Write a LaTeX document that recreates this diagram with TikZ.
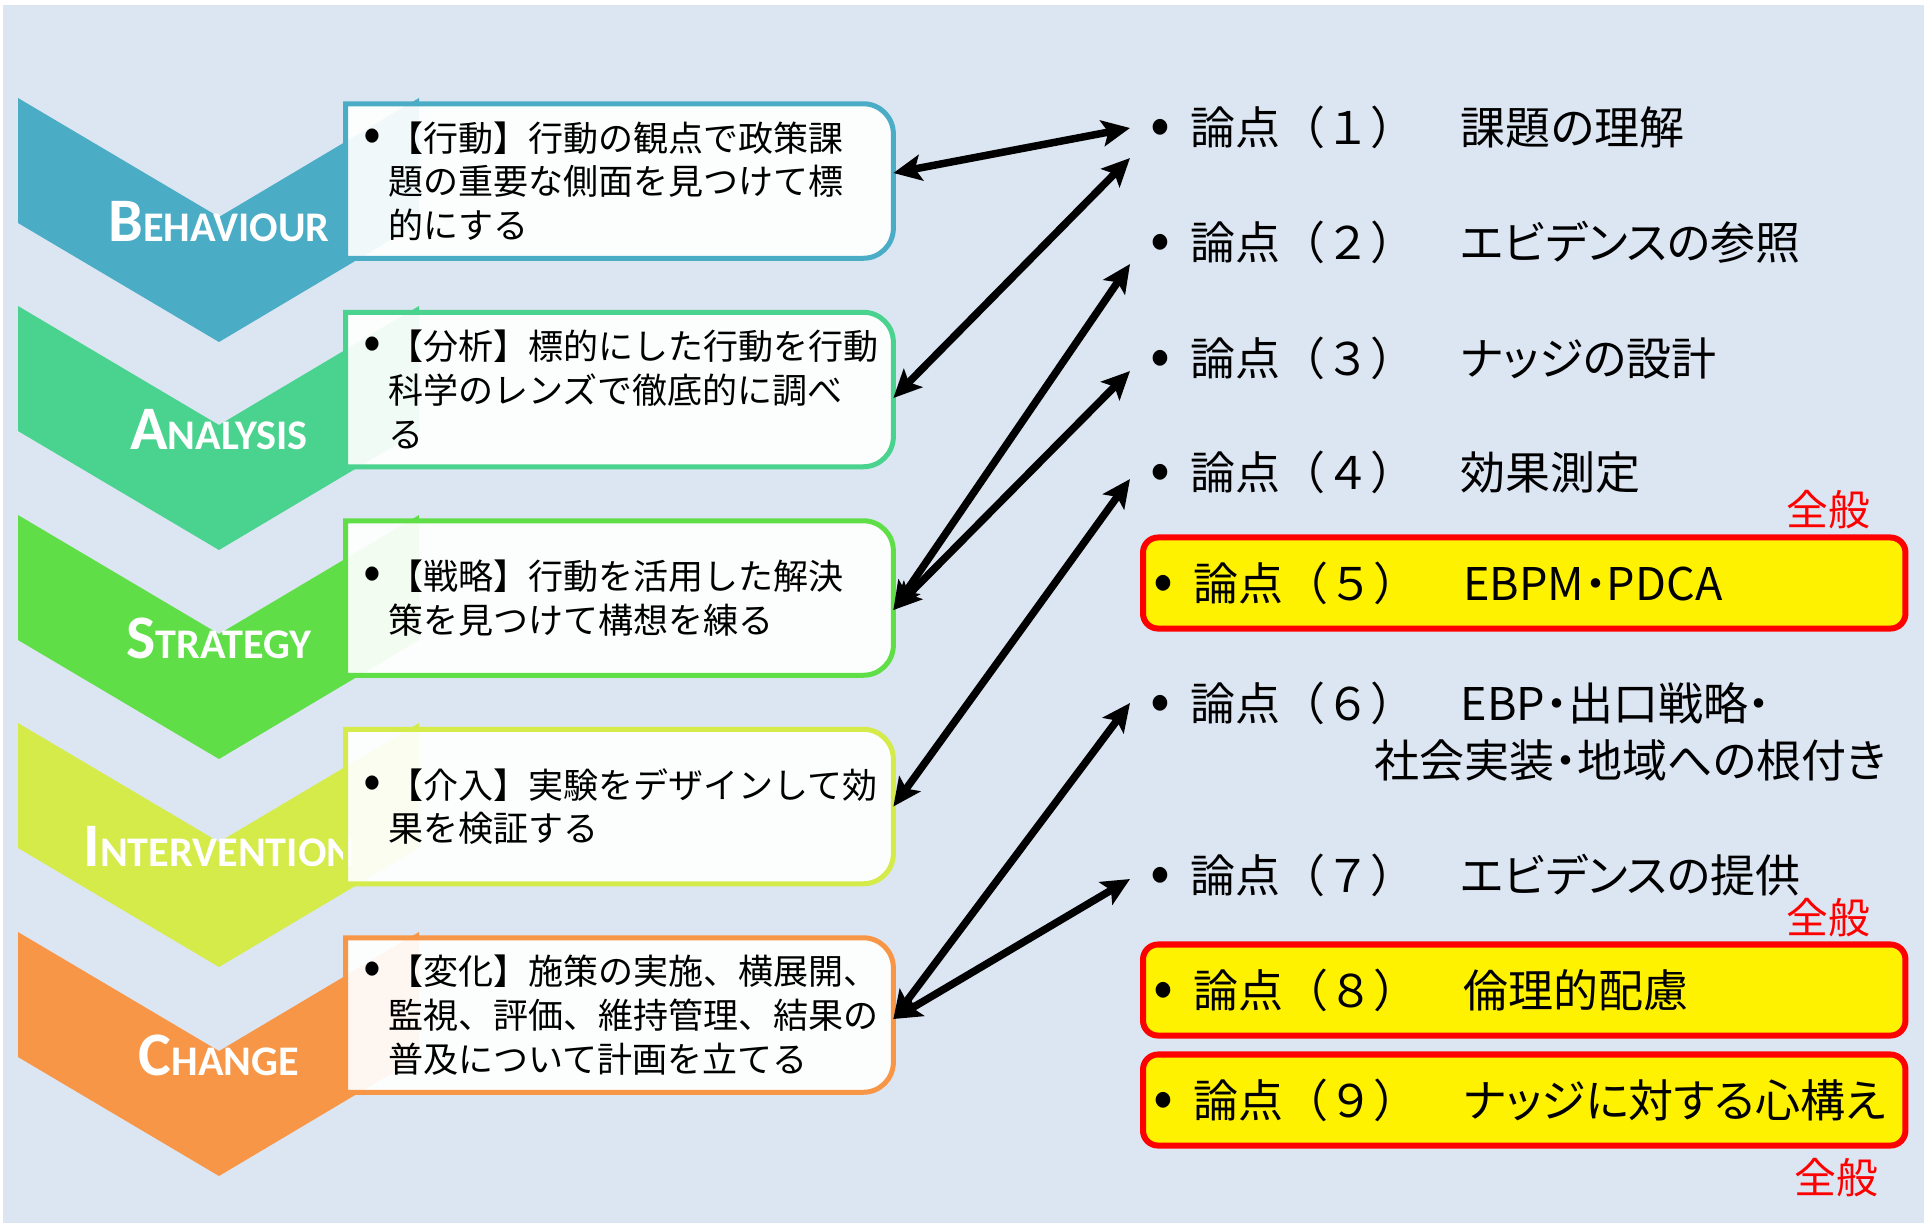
\documentclass[tikz,border=0pt]{standalone}
\usepackage{graphicx}
\usepackage{fontspec}
\setmainfont{Noto Sans CJK JP}
\newfontfamily\proptext[RawFeature=+palt]{Noto Sans CJK JP}
\newfontfamily\stagefont{Carlito}
\usetikzlibrary{arrows.meta,positioning}
\definecolor{bgblue}{RGB}{220,230,242}
\definecolor{behcol}{RGB}{75,172,198}
\definecolor{anacol}{RGB}{73,211,143}
\definecolor{stratcol}{RGB}{96,222,72}
\definecolor{intcol}{RGB}{212,235,74}
\definecolor{chgcol}{RGB}{247,150,70}
\newcommand{\stagename}[2]{{\fontsize{17.6}{18}\selectfont #1}{\fontsize{12}{13}\selectfont #2}}
\newcommand{\dotmark}{\llap{\scalebox{1.5}{•}\hspace{0.07cm}}}
\newcommand{\topic}[2]{\makebox[0.4cm][l]{\scalebox{1.3}{•}}\makebox[2.7cm][l]{論点（#1）}{\proptext #2}}
\begin{document}
\begin{tikzpicture}[x=0.01cm, y=0.01cm, >={Stealth[length=0.28cm,width=0.26cm,inset=0.06cm]},
  tab/.style={minimum width=5.46cm, minimum height=1.53cm, inner sep=0},
  tabframe/.style={line width=0.05cm, draw=#1, fill=white, fill opacity=0.92},
  tabtext/.style={inner sep=0, anchor=west, align=left, font=\fontsize{9.96}{12.4}\selectfont},
  stage/.style={anchor=base, text=white, font=\stagefont\bfseries},
  item/.style={anchor=west, inner xsep=0.1cm, inner ysep=0.05cm, align=left, font=\fontsize{12.8}{16.2}\selectfont},
  hot/.style={item, draw=red, fill=yellow, line width=0.06cm, rounded corners=0.15cm, text width=7.42cm, minimum height=0.91cm},
  general/.style={text=red, font=\fontsize{11.9}{12}\selectfont},
  link/.style={<->, line width=0.075cm}]
\useasboundingbox (0,0) rectangle (1927,-1223);
\fill[bgblue] (3,-5) rectangle (1924,-1223);

% chevrons
\fill[behcol] (18,-98) -- (219,-217) -- (419,-98) -- (419,-223) -- (219,-342) -- (18,-223) -- cycle;
\fill[anacol] (18,-306) -- (219,-425) -- (419,-306) -- (419,-431) -- (219,-550) -- (18,-431) -- cycle;
\fill[stratcol] (18,-515) -- (219,-634) -- (419,-515) -- (419,-640) -- (219,-759) -- (18,-640) -- cycle;
\fill[intcol] (18,-723) -- (219,-842) -- (419,-723) -- (419,-848) -- (219,-967) -- (18,-848) -- cycle;
\fill[chgcol] (18,-932) -- (219,-1051) -- (419,-932) -- (419,-1057) -- (219,-1176) -- (18,-1057) -- cycle;
\node[stage] (behlab) at (219,-241) {\stagename{B}{EHAVIOUR}};
\node[stage] (analab) at (219,-449) {\stagename{A}{NALYSIS}};
\node[stage] (stratlab) at (219,-658) {\stagename{S}{TRATEGY}};
\node[stage] (intlab) at (219,-866) {\stagename{I}{NTERVENTION}};
\node[stage] (chglab) at (219,-1075) {\stagename{C}{HANGE}};

% boxes
\node[tab] (behbox) at (619.5,-181) {};
\node[tab] (anabox) at (619.5,-389.5) {};
\node[tab] (stratbox) at (619.5,-598) {};
\node[tab] (intbox) at (619.5,-806.5) {};
\node[tab] (chgbox) at (619.5,-1015) {};
\filldraw[tabframe=behcol] (behbox.south west) -- (behbox.north west) -- ([xshift=-0.3cm]behbox.north east) arc[start angle=90, end angle=0, radius=0.3cm] -- ([yshift=0.3cm]behbox.south east) arc[start angle=0, end angle=-90, radius=0.3cm] -- cycle;
\filldraw[tabframe=anacol] (anabox.south west) -- (anabox.north west) -- ([xshift=-0.3cm]anabox.north east) arc[start angle=90, end angle=0, radius=0.3cm] -- ([yshift=0.3cm]anabox.south east) arc[start angle=0, end angle=-90, radius=0.3cm] -- cycle;
\filldraw[tabframe=stratcol] (stratbox.south west) -- (stratbox.north west) -- ([xshift=-0.3cm]stratbox.north east) arc[start angle=90, end angle=0, radius=0.3cm] -- ([yshift=0.3cm]stratbox.south east) arc[start angle=0, end angle=-90, radius=0.3cm] -- cycle;
\filldraw[tabframe=intcol] (intbox.south west) -- (intbox.north west) -- ([xshift=-0.3cm]intbox.north east) arc[start angle=90, end angle=0, radius=0.3cm] -- ([yshift=0.3cm]intbox.south east) arc[start angle=0, end angle=-90, radius=0.3cm] -- cycle;
\filldraw[tabframe=chgcol] (chgbox.south west) -- (chgbox.north west) -- ([xshift=-0.3cm]chgbox.north east) arc[start angle=90, end angle=0, radius=0.3cm] -- ([yshift=0.3cm]chgbox.south east) arc[start angle=0, end angle=-90, radius=0.3cm] -- cycle;
\node[tabtext, right=0.42cm of behbox.west] (behtxt) {\dotmark【行動】行動の観点で政策課\\題の重要な側面を見つけて標\\的にする};
\node[tabtext, right=0.42cm of anabox.west] (anatxt) {\dotmark【分析】標的にした行動を行動\\科学のレンズで徹底的に調べ\\る};
\node[tabtext, right=0.42cm of stratbox.west] (strattxt) {\dotmark【戦略】行動を活用した解決\\策を見つけて構想を練る};
\node[tabtext, right=0.42cm of intbox.west] (inttxt) {\dotmark【介入】実験をデザインして効\\果を検証する};
\node[tabtext, right=0.42cm of chgbox.west] (chgtxt) {\dotmark【変化】施策の実施、横展開、\\監視、評価、維持管理、結果の\\普及について計画を立てる};

% topics
\node[item] (p1) at (1140,-127) {\topic{１}{課題の理解}};
\node[item] (p2) at (1140,-242) {\topic{２}{エビデンスの参照}};
\node[item] (p3) at (1140,-358) {\topic{３}{ナッジの設計}};
\node[item] (p4) at (1140,-472) {\topic{４}{効果測定}};
\node[hot] (p5) at (1140,-583) {\topic{５}{EBPM・PDCA}};
\node[item] (p6) at (1140,-731.5) {\topic{６}{EBP・出口戦略・}\\\hspace*{2.24cm}{\proptext 社会実装・地域への根付き}};
\node[item] (p7) at (1140,-875) {\topic{７}{エビデンスの提供}};
\node[hot] (p8) at (1140,-990) {\topic{８}{倫理的配慮}};
\node[hot] (p9) at (1140,-1100) {\topic{９}{ナッジに対する心構え}};
\node[general] (g5) at (1828,-510) {全般};
\node[general] (g8) at (1828,-918) {全般};
\node[general] (g9) at (1836,-1178) {全般};

% links
\draw[link] ([yshift=0.08cm]behbox.east) -- ([xshift=-0.1cm,yshift=-0.01cm]p1.west);
\draw[link] ([yshift=-0.085cm]anabox.east) -- ([xshift=-0.1cm,yshift=-0.31cm]p1.west);
\draw[link] ([yshift=-0.12cm]stratbox.east) -- ([xshift=-0.1cm,yshift=-0.22cm]p2.west);
\draw[link] ([yshift=-0.12cm]stratbox.east) -- ([xshift=-0.1cm,yshift=-0.13cm]p3.west);
\draw[link] (intbox.east) -- ([xshift=-0.1cm,yshift=-0.07cm]p4.west);
\draw[link] ([yshift=-0.04cm]chgbox.east) -- ([xshift=-0.1cm,yshift=0.285cm]p6.west);
\draw[link] ([yshift=-0.04cm]chgbox.east) -- ([xshift=-0.1cm,yshift=-0.04cm]p7.west);
\end{tikzpicture}
\end{document}
